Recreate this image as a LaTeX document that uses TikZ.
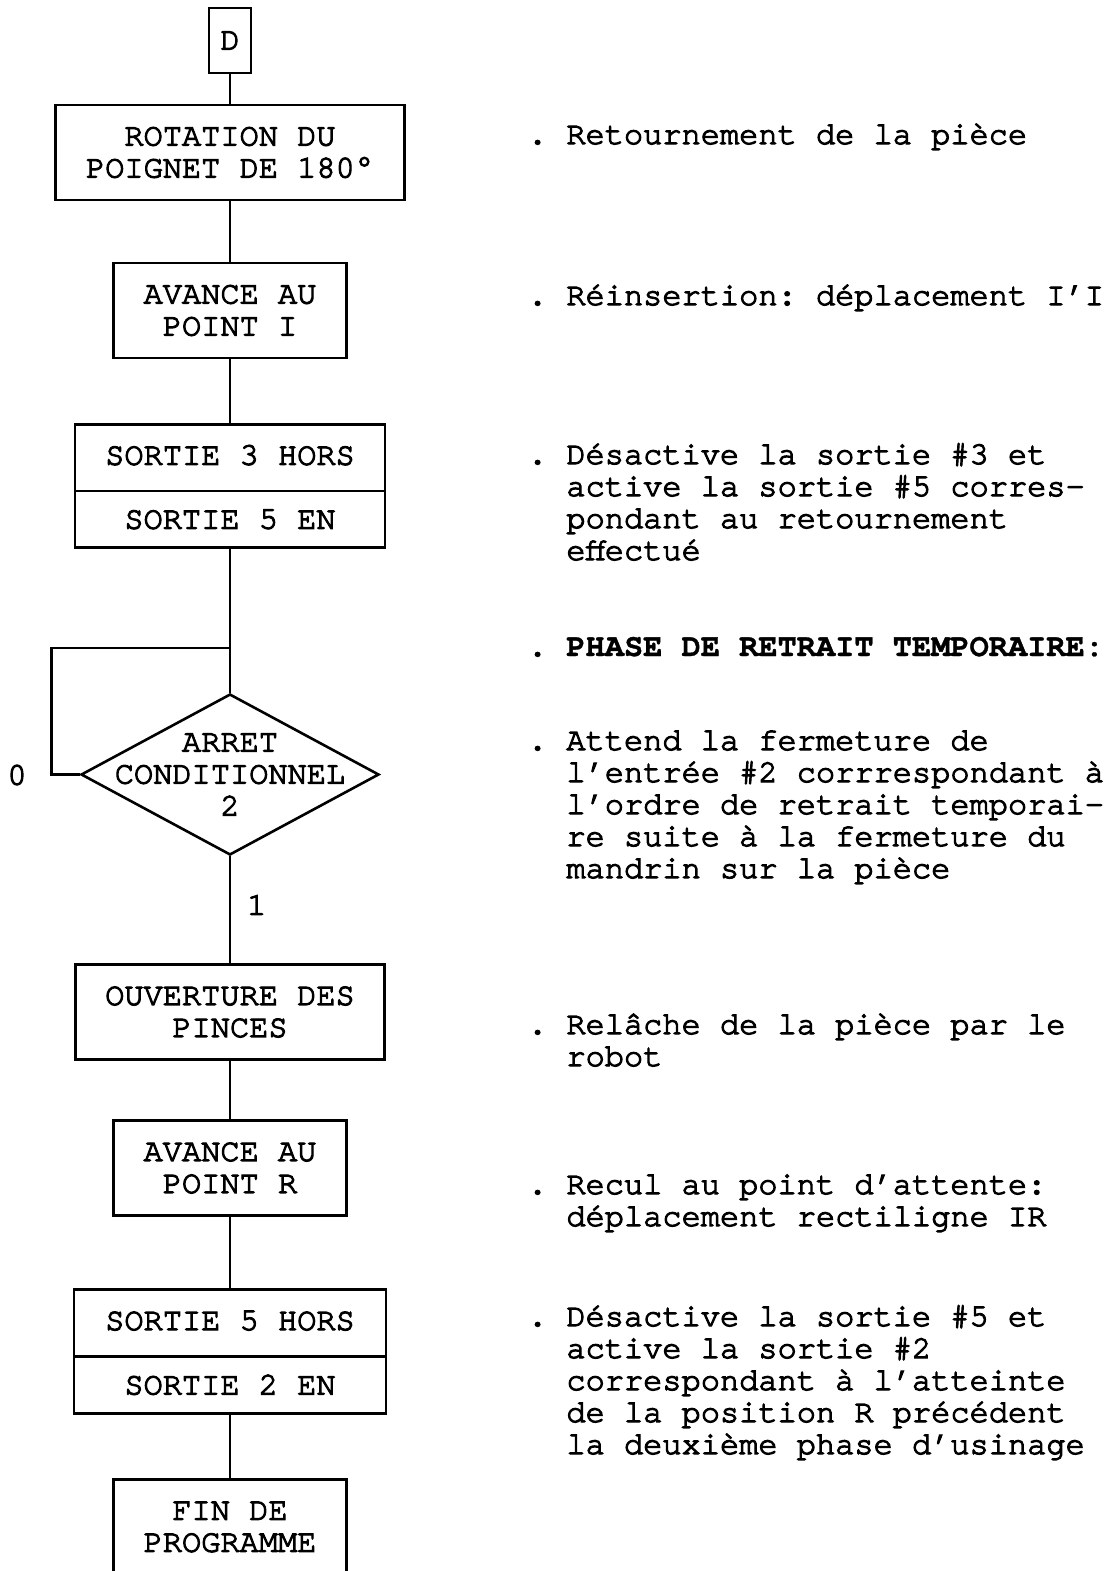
\documentclass[tikz,border=0pt]{standalone}
\usepackage{fontspec}
\setmonofont[UprightFeatures={FakeBold=3.5}, BoldFeatures={FakeBold=1}]{TeX Gyre Cursor}
\usetikzlibrary{positioning, shapes.geometric, shapes.multipart}
\tikzset{
    every node/.style={
        font=\ttfamily\fontsize{16}{16}\selectfont
    },
    flowbox/.style={
        draw=black,
        line width=1.3pt,
        align=center,
        inner sep=0pt,
        minimum height=47.5pt
    },
    widebox/.style={flowbox, minimum width=154.5pt},
    narrowbox/.style={flowbox, minimum width=116.5pt},
    splitbox/.style={
        draw=black,
        line width=1.3pt,
        rectangle split,
        rectangle split parts=2,
        minimum width=155pt,
        text height=11pt,
        text depth=4pt,
        inner xsep=0pt,
        inner ysep=8.5pt
    },
    decision/.style={
        draw=black,
        line width=1.3pt,
        diamond,
        minimum width=149pt,
        minimum height=80.5pt,
        inner sep=0pt
    },
    note/.style={anchor=base west, align=left, inner sep=0pt},
    link/.style={draw=black, line width=1.3pt}
}

\begin{document}
\begin{tikzpicture}[x=0.5pt, y=-0.5pt, on grid]
            \useasboundingbox (0,0) rectangle (1112,1571);

            % Blocs
            \node (debut) [flowbox, minimum width=21pt, minimum height=32.5pt] at (230,40.5) {D};
            \node (rotation) [
                flowbox,
                minimum width=174.5pt,
                below = 56pt of debut
            ] {ROTATION DU\\POIGNET DE 180°};
            \node (avanceI) [
                narrowbox,
                below = 79pt of rotation
            ] {AVANCE AU\\POINT I};
            \node (sorties35) [
                splitbox,
                below = 87.75pt of avanceI
            ] {SORTIE 3 HORS\nodepart{two}SORTIE 5 EN};
            \node (arret) [
                decision,
                below = 144.25pt of sorties35,
                label={[align=center]center:{ARRET\\CONDITIONNEL\\2}}
            ] {};
            \node (ouverture) [
                widebox,
                below = 118.75pt of arret
            ] {OUVERTURE DES\\PINCES};
            \node (avanceR) [
                narrowbox,
                below = 78pt of ouverture
            ] {AVANCE AU\\POINT R};
            \node (sorties52) [
                splitbox,
                minimum width=156pt,
                below = 91.75pt of avanceR
            ] {SORTIE 5 HORS\nodepart{two}SORTIE 2 EN};
            \node (fin) [
                narrowbox,
                below = 87.75pt of sorties52
            ] {FIN DE\\PROGRAMME};

            % Liaisons
            \path [link]
                (debut) -- (rotation)
                (rotation) -- (avanceI)
                (avanceI) -- (sorties35)
                (sorties35) -- (arret)
                (arret) -- (ouverture)
                (ouverture) -- (avanceR)
                (avanceR) -- (sorties52)
                (sorties52) -- (fin)
            ;

            % Boucle d'attente
            \coordinate (retour) at (230,648);
            \draw [link] (arret.west) -- ++(-28,0) |- (retour);
            \node (sortie0) at (17,775) {0};
            \node (sortie1) [anchor=west] at (240,905) {1};

            % Commentaires (ancre = ligne de base de la derniere ligne)
            \node (n1) [note] at (566,144) {\llap{.\ }Retournement de la pièce};
            \node (n2) [note] at (566,305) {\llap{.\ }Réinsertion: déplacement I’I};
            \node (n3) [note] at (566,560) {\llap{.\ }Désactive la sortie \#3 et\\active la sortie \#5 corres-\\pondant au retournement\\effectué};
            \node (n4) [note] at (566,656) {\llap{.\ }\bfseries PHASE DE RETRAIT TEMPORAIRE:};
            \node (n5) [note] at (566,878) {\llap{.\ }Attend la fermeture de\\l’entrée \#2 corrrespondant à\\l’ordre de retrait temporai-\\re suite à la fermeture du\\mandrin sur la pièce};
            \node (n6) [note] at (566,1066) {\llap{.\ }Relâche de la pièce par le\\robot};
            \node (n7) [note] at (566,1226) {\llap{.\ }Recul au point d’attente:\\déplacement rectiligne IR};
            \node (n8) [note] at (566,1454) {\llap{.\ }Désactive la sortie \#5 et\\active la sortie \#2\\correspondant à l’atteinte\\de la position R précédent\\la deuxième phase d’usinage};
        \end{tikzpicture}
\end{document}
